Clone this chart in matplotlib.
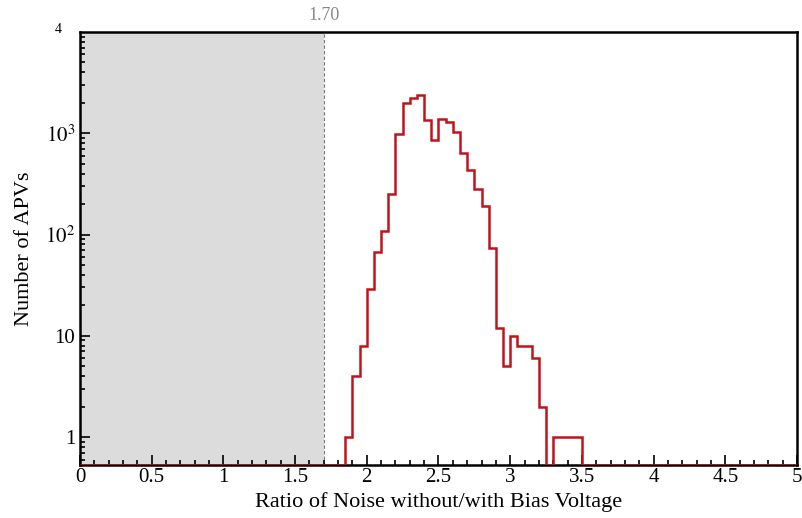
import numpy as np
import matplotlib
matplotlib.use("Agg")
import matplotlib.pyplot as plt
from matplotlib.ticker import FixedLocator, LogLocator, MultipleLocator, NullFormatter

plt.rcParams["font.family"] = ["Liberation Serif", "DejaVu Serif"]
plt.rcParams["mathtext.fontset"] = "stix"

# histogram: 100 bins of 0.05 from 0 to 5, only non-empty region listed
bin_width = 0.05
first_edge = 1.85
counts_nonzero = [1, 4, 8, 29, 68, 108, 250, 976, 1990, 2230, 2400, 1340, 850,
                  1380, 1280, 1030, 635, 435, 280, 191, 73, 12, 5, 10, 8, 8, 6,
                  2, 0, 1, 1, 1, 1]
cut_value = 1.70
y_min, y_max = 0.53, 1e4

edges = np.round(np.arange(0, 5 + bin_width / 2, bin_width), 3)
counts = np.zeros(len(edges) - 1)
i0 = int(round(first_edge / bin_width))
counts[i0:i0 + len(counts_nonzero)] = counts_nonzero

fig = plt.figure(figsize=(8.03, 5.18), dpi=100)
ax = fig.add_axes([80 / 803, 1 - 465 / 518, 717 / 803, 433 / 518])

ax.axvspan(0, cut_value, color="#dcdcdc", zorder=0, lw=0)
ax.axvline(cut_value, color="#777777", ls=(0, (3, 2)), lw=0.8, zorder=1)

# empty bins drawn on the floor of the axis, as in the original
shown = np.where(counts > 0, counts, y_min)
ax.stairs(shown, edges, color="#bf141c", lw=1.8, baseline=None, zorder=3)

ax.set_yscale("log")
ax.set_xlim(0, 5)
ax.set_ylim(y_min, y_max)

ax.xaxis.set_major_locator(MultipleLocator(0.5))
ax.xaxis.set_minor_locator(MultipleLocator(0.1))
ax.set_xticks([0, 0.5, 1, 1.5, 2, 2.5, 3, 3.5, 4, 4.5, 5])
ax.set_xticklabels(["0", "0.5", "1", "1.5", "2", "2.5", "3", "3.5", "4", "4.5", "5"])

ax.yaxis.set_major_locator(FixedLocator([1, 10, 100, 1000]))
ax.set_yticklabels(["1", "10", r"$10^2$", r"$10^3$"])
ax.yaxis.set_minor_locator(LogLocator(base=10, subs=np.arange(2, 10)))
ax.yaxis.set_minor_formatter(NullFormatter())

ax.tick_params(which="both", direction="in", labelsize=15, width=1.2)
ax.tick_params(which="major", length=7)
ax.tick_params(which="minor", length=3.5)
ax.tick_params(axis="x", pad=2)
for s in ax.spines.values():
    s.set_linewidth(1.8)

ax.text(-0.025, 1.005, "4", transform=ax.transAxes, ha="right", va="center",
        fontsize=10)
ax.text(cut_value, y_max * 1.2, "1.70", ha="center", va="bottom",
        color="#888888", fontsize=13)

ax.set_xlabel("Ratio of Noise without/with Bias Voltage", fontsize=16, labelpad=4)
ax.set_ylabel("Number of APVs", fontsize=16, labelpad=8)

fig.savefig("out.png", dpi=100)
